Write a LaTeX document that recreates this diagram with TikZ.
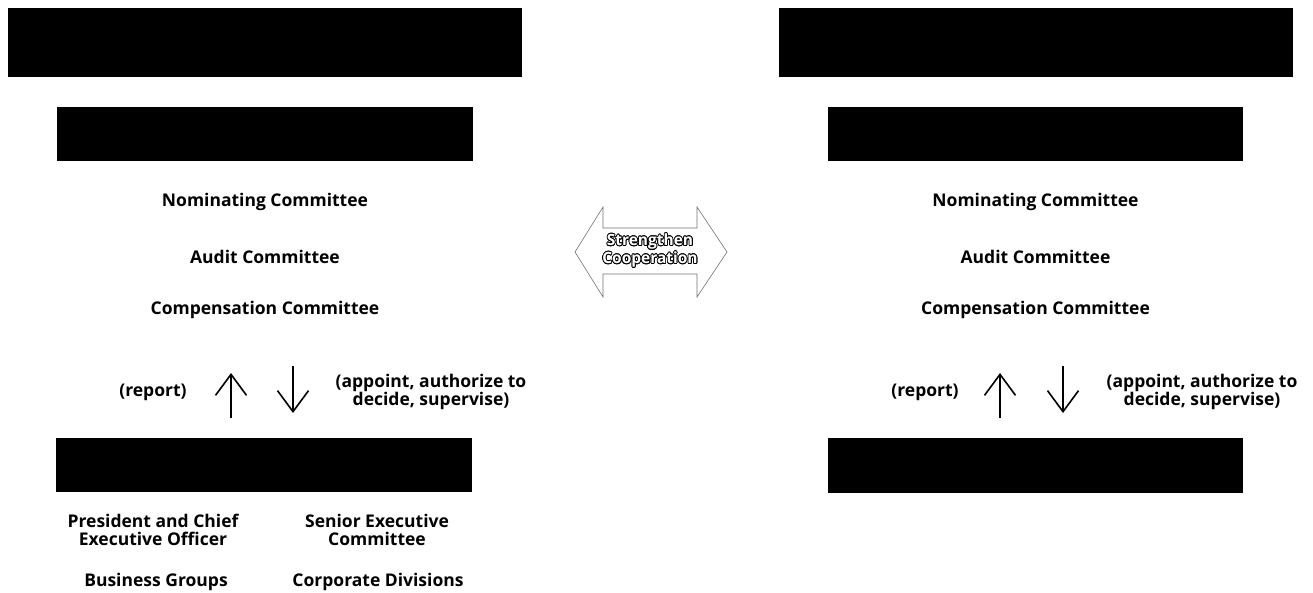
\documentclass[tikz,border=0pt]{standalone}
\usepackage{fontspec}
\setmainfont{Open Sans}
\usepackage{contour}
\contourlength{0.8pt}
\usetikzlibrary{arrows.meta}
\tikzset{
  blackbox/.style={fill=black,draw=none,inner sep=0pt},
  lbl/.style={font=\bfseries\fontsize{17.5}{18}\selectfont,align=center,inner sep=0pt,text=black},
  flow/.style={line width=1.6pt,-{Straight Barb[length=21pt,width=31pt,line width=1.6pt]}},
  coop/.style={draw=black!55,line width=0.6pt,fill=white},
}
\begin{document}
\begin{tikzpicture}[x=1pt,y=-1pt]
\useasboundingbox (0,0) rectangle (1313,593);
% left column
\node[blackbox,minimum width=514pt,minimum height=69pt] (tl) at (265,42.5) {};
\node[blackbox,minimum width=416pt,minimum height=54pt] (tl2) at (265,134) {};
\node[lbl] (ln) at (265,202) {Nominating Committee};
\node[lbl] (la) at (265,257) {Audit Committee};
\node[lbl] (lc) at (265,310) {Compensation Committee};
\node[lbl] (lrep) at (153,392) {(report)};
\node[lbl] (lapp) at (431,392) {(appoint, authorize to\\decide, supervise)};
\coordinate (lu1) at (231,418);
\coordinate (lu2) at (231,373);
\coordinate (ld1) at (293,366);
\coordinate (ld2) at (293,413);
\draw[flow] (lu1) -- (lu2);
\draw[flow] (ld1) -- (ld2);
\node[blackbox,minimum width=416pt,minimum height=54pt] (bl) at (264,465) {};
\node[lbl] (lpres) at (153,530) {President and Chief\\Executive Officer};
\node[lbl] (lsen) at (377,530) {Senior Executive\\Committee};
\node[lbl] (lbus) at (156,582) {Business Groups};
\node[lbl] (lcorp) at (378,582) {Corporate Divisions};
% right column
\node[blackbox,minimum width=514pt,minimum height=69pt] (tr) at (1036,42.5) {};
\node[blackbox,minimum width=415pt,minimum height=54pt] (tr2) at (1035.5,134) {};
\node[lbl] (rn) at (1035.5,202) {Nominating Committee};
\node[lbl] (ra) at (1035.5,257) {Audit Committee};
\node[lbl] (rc) at (1035.5,310) {Compensation Committee};
\node[lbl] (rrep) at (925,392) {(report)};
\node[lbl] (rapp) at (1202,392) {(appoint, authorize to\\decide, supervise)};
\coordinate (ru1) at (1000,418);
\coordinate (ru2) at (1000,373);
\coordinate (rd1) at (1063,366);
\coordinate (rd2) at (1063,413);
\draw[flow] (ru1) -- (ru2);
\draw[flow] (rd1) -- (rd2);
\node[blackbox,minimum width=415pt,minimum height=55pt] (br) at (1035.5,465.5) {};
% centre double arrow
\draw[coop] (575,252) -- (603,207) -- (603,228) -- (697,228) -- (697,207) -- (727,252)
  -- (697,297) -- (697,274) -- (603,274) -- (603,297) -- cycle;
\node[font=\bfseries\fontsize{15.5}{18}\selectfont,align=center,inner sep=0pt] (coop) at (650,251)
  {\contour{black}{\textcolor{white}{Strengthen}}\\\contour{black}{\textcolor{white}{Cooperation}}};
\end{tikzpicture}
\end{document}
